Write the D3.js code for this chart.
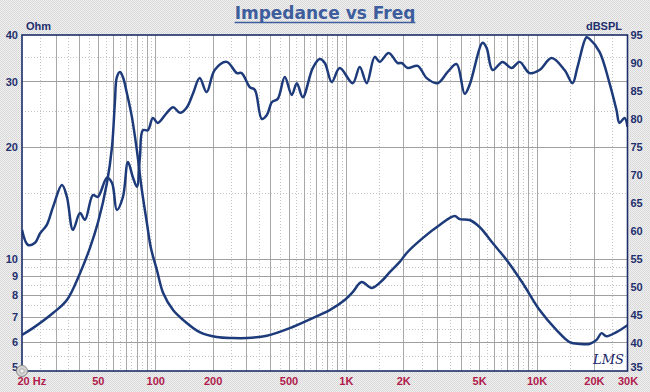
<!DOCTYPE html>
<html>
<head>
<meta charset="utf-8">
<script src="https://cdn.jsdelivr.net/npm/d3@7"></script>
<style>
  html, body { margin: 0; padding: 0; background: #e6e6e6; }
  svg { display: block; }
</style>
</head>
<body>
<script>
// impedance curve (Ohm, left axis)
var impFreq = [20, 22.8, 29.1, 34.4, 40.3, 45.4, 50, 55.8, 59.3, 61.4, 62.9, 65.3, 67.7, 71, 75.4, 80.1, 85.1, 90.4, 94.9,
  102, 110, 124, 140, 171, 210, 255, 302, 385, 508, 670, 822, 986, 1086, 1210, 1366, 1560, 1698, 1916, 2084, 2528,
  3104, 3718, 3952, 4456, 5026, 5886, 6966, 8450, 10376, 12736, 14900, 16820, 18960, 20640, 21920, 23280, 26260, 30000]
var impOhm = [6.25, 6.52, 7.16, 7.76, 9.16, 10.7, 12.5, 16.0, 20.0, 26.3, 30.8, 31.8, 30.8, 27.9, 24.1, 19.6, 15.3, 12.5, 10.7,
  9.34, 8.1, 7.29, 6.86, 6.36, 6.17, 6.13, 6.13, 6.22, 6.52, 6.94, 7.29, 7.76, 8.15, 8.67, 8.36, 8.78, 9.22, 9.82, 10.38, 11.38,
  12.34, 13.05, 12.8, 12.73, 12.19, 11.04, 9.94, 8.62, 7.29, 6.44, 5.98, 5.91, 5.91, 6.06, 6.32, 6.2, 6.36, 6.64]

// SPL curve (dBSPL, right axis)
var splFreq = [20, 21.5, 23.4, 24.9, 27, 29.1, 32.4, 34.4, 37, 40.3, 42.8, 47.1, 50, 55.8, 59.3, 62.9, 67.7, 71.9, 76.3, 80.1,
  83.1, 86.1, 91.5, 97.2, 103, 115, 124, 135, 146, 158, 171, 186, 205, 237, 268, 284, 313, 333, 362, 385, 409, 439, 478,
  520, 553, 594, 670, 729, 775, 843, 928, 1086, 1182, 1286, 1416, 1504, 1677, 1869, 1961, 2110, 2380, 2654, 3028, 3418,
  3810, 4196, 4456, 5214, 5472, 5882, 6638, 7400, 8150, 9194, 10374, 11992, 14026, 15446, 16408, 18290, 18964, 21400,
  24140, 26260, 27240, 28940, 30000]
var splDb = [60.2, 57.5, 57.9, 59.6, 61.1, 64.3, 68.2, 66.1, 60.2, 63.2, 62.0, 66.4, 66.1, 69.5, 68.6, 63.75, 66.1, 72.3, 69.6, 67.9,
  73.2, 78.0, 78.0, 80.2, 79.3, 81.1, 82.1, 81.1, 82.0, 84.6, 87.3, 84.8, 88.75, 90.2, 88.2, 88.2, 85.7, 85.2, 80.0, 80.7, 83.0, 83.6, 87.5,
  84.3, 86.4, 83.9, 89.1, 90.7, 90.0, 86.6, 89.1, 86.4, 89.3, 86.4, 91.1, 90.2, 91.8, 90.0, 90.0, 89.1, 89.5, 87.3, 86.4, 88.4,
  89.8, 84.5, 86.1, 93.6, 92.7, 88.75, 90.2, 89.1, 90.2, 88.2, 88.75, 90.9, 88.75, 86.4, 89.3, 94.6, 94.3, 92.0,
  86.4, 81.6, 79.3, 80.2, 78.6]

var xTicks = [20, 50, 100, 200, 500, 1000, 2000, 5000, 10000, 20000, 30000]
var xTickLabels = ['20 Hz', '50', '100', '200', '500', '1K', '2K', '5K', '10K', '20K', '30K']
var ohmTicks = [5, 6, 7, 8, 9, 10, 20, 30, 40]
var dbTicks = [35, 40, 45, 50, 55, 60, 65, 70, 75, 80, 85, 90, 95]

var W = 650, H = 392
var L = 22, R = 627.5, T = 35, B = 371

var x = d3.scaleLog().domain([20, 30000]).range([L, R])
var yL = d3.scaleLog().domain([5, 40]).range([B, T])
var yR = d3.scaleLinear().domain([35, 95]).range([B, T])

// grid lines: full steps solid, half steps dotted
var vSolid = [], vDot = []
;[10, 100, 1000, 10000].forEach(function (dec) {
  for (var m = 1; m <= 9; m++) {
    var f = m * dec
    if (f > 20 && f < 30000) vSolid.push(f)
    var h = (m + 0.5) * dec
    if (h > 20 && h < 30000) vDot.push(h)
  }
})
var hSolid = [6, 7, 8, 9, 10, 20, 30]
var hDot = [5.5, 6.5, 7.5, 8.5, 9.5, 15, 25, 35]

var svg = d3.select('body').append('svg')
  .attr('width', W)
  .attr('height', H)

var defs = svg.append('defs')
var pat = defs.append('pattern').attr('id', 'dither')
  .attr('width', 2).attr('height', 2).attr('patternUnits', 'userSpaceOnUse')
pat.append('rect').attr('width', 2).attr('height', 2).attr('fill', '#f1f1f1')
pat.append('rect').attr('width', 1).attr('height', 1).attr('fill', '#d6d6d6')
pat.append('rect').attr('x', 1).attr('y', 1).attr('width', 1).attr('height', 1).attr('fill', '#dadada')
defs.append('clipPath').attr('id', 'plotclip')
  .append('rect').attr('x', L).attr('y', T).attr('width', R - L).attr('height', B - T)

svg.append('rect').attr('width', W).attr('height', H).attr('fill', 'url(#dither)')
svg.append('rect').attr('x', L).attr('y', T).attr('width', R - L).attr('height', B - T).attr('fill', '#ffffff')

var grid = svg.append('g').attr('shape-rendering', 'crispEdges')
grid.selectAll('.vd').data(vDot).enter().append('line')
  .attr('x1', d => Math.round(x(d)) + 0.5).attr('x2', d => Math.round(x(d)) + 0.5)
  .attr('y1', T).attr('y2', B)
  .attr('stroke', '#c4c4c4').attr('stroke-dasharray', '1,2')
grid.selectAll('.hd').data(hDot).enter().append('line')
  .attr('y1', d => Math.round(yL(d)) + 0.5).attr('y2', d => Math.round(yL(d)) + 0.5)
  .attr('x1', L).attr('x2', R)
  .attr('stroke', '#c4c4c4').attr('stroke-dasharray', '1,2')
grid.selectAll('.vs').data(vSolid).enter().append('line')
  .attr('x1', d => Math.round(x(d)) + 0.5).attr('x2', d => Math.round(x(d)) + 0.5)
  .attr('y1', T).attr('y2', B)
  .attr('stroke', '#a8a8a8')
grid.selectAll('.hs').data(hSolid).enter().append('line')
  .attr('y1', d => Math.round(yL(d)) + 0.5).attr('y2', d => Math.round(yL(d)) + 0.5)
  .attr('x1', L).attr('x2', R)
  .attr('stroke', '#a0a0a0')

// curves
var plot = svg.append('g').attr('clip-path', 'url(#plotclip)')
var impLine = d3.line()
  .x(d => x(d[0])).y(d => yL(d[1]))
  .curve(d3.curveCatmullRom.alpha(0.5))
var splLine = d3.line()
  .x(d => x(d[0])).y(d => yR(d[1]))
  .curve(d3.curveCatmullRom.alpha(0.5))

plot.append('path')
  .datum(impFreq.map((f, i) => [f, impOhm[i]]))
  .attr('d', impLine)
  .attr('fill', 'none').attr('stroke', '#1d3b7a').attr('stroke-width', 2.5)
plot.append('path')
  .datum(splFreq.map((f, i) => [f, splDb[i]]))
  .attr('d', splLine)
  .attr('fill', 'none').attr('stroke', '#1d3b7a').attr('stroke-width', 2.5)

// frame
svg.append('rect').attr('x', L).attr('y', T).attr('width', R - L).attr('height', B - T)
  .attr('fill', 'none').attr('stroke', '#1c2d6a').attr('stroke-width', 1.6)

// axes
var font = '"Liberation Sans", Arial, sans-serif'
var gx = svg.append('g').attr('transform', `translate(0, ${B})`)
  .call(d3.axisBottom(x).tickValues(xTicks).tickFormat((d, i) => xTickLabels[i]).tickSize(0).tickPadding(6))
gx.select('.domain').remove()
gx.selectAll('text').attr('fill', '#b01a4c')
  .style('font', `bold 11px ${font}`)
gx.selectAll('text').filter((d, i) => i === 0).attr('text-anchor', 'start').attr('x', -5)

var gl = svg.append('g').attr('transform', `translate(${L}, 0)`)
  .call(d3.axisLeft(yL).tickValues(ohmTicks).tickFormat(d3.format('d')).tickSize(0).tickPadding(4))
gl.select('.domain').remove()
gl.selectAll('text').attr('fill', '#1f2f6e').style('font', `bold 11px ${font}`)
gl.selectAll('text').filter(d => d === 5).attr('dy', '-0.05em')

var gr = svg.append('g').attr('transform', `translate(${R}, 0)`)
  .call(d3.axisRight(yR).tickValues(dbTicks).tickFormat(d3.format('d')).tickSize(0).tickPadding(3))
gr.select('.domain').remove()
gr.selectAll('text').attr('fill', '#1f2f6e').style('font', `bold 11px ${font}`)
// lowest label sits a little higher so it clears the 30K label
gr.selectAll('text').filter(d => d === 35).attr('dy', '-0.08em')

svg.append('text').attr('x', 26).attr('y', 29.5).text('Ohm')
  .attr('fill', '#1f2f6e').style('font', `bold 11px ${font}`)
svg.append('text').attr('x', 622).attr('y', 29.5).attr('text-anchor', 'end').text('dBSPL')
  .attr('fill', '#1f2f6e').style('font', `bold 11px ${font}`)

// title
var title = svg.append('text').attr('x', 325).attr('y', 18.5).attr('text-anchor', 'middle')
  .text('Impedance vs Freq')
  .attr('fill', '#3d5d9d')
  .style('font', 'bold 17px "DejaVu Sans", Verdana, sans-serif')
var tb = title.node().getBBox()
svg.append('line').attr('x1', tb.x).attr('x2', tb.x + tb.width).attr('y1', 22.5).attr('y2', 22.5)
  .attr('stroke', '#3d5d9d').attr('stroke-width', 1.6)

// logos
svg.append('text').attr('x', 593).attr('y', 364).text('LMS')
  .attr('fill', '#1a2566')
  .style('font', 'italic 13px "DejaVu Serif", serif')
var badge = svg.append('g').attr('transform', `translate(${L}, ${B})`)
badge.append('circle').attr('r', 5.5).attr('fill', '#d4d4d4').attr('stroke', '#8a8a8a').attr('stroke-width', 1)
badge.append('circle').attr('r', 2.2).attr('fill', '#f4f4f4').attr('stroke', '#9a9a9a').attr('stroke-width', 0.8)
</script>
</body>
</html>
